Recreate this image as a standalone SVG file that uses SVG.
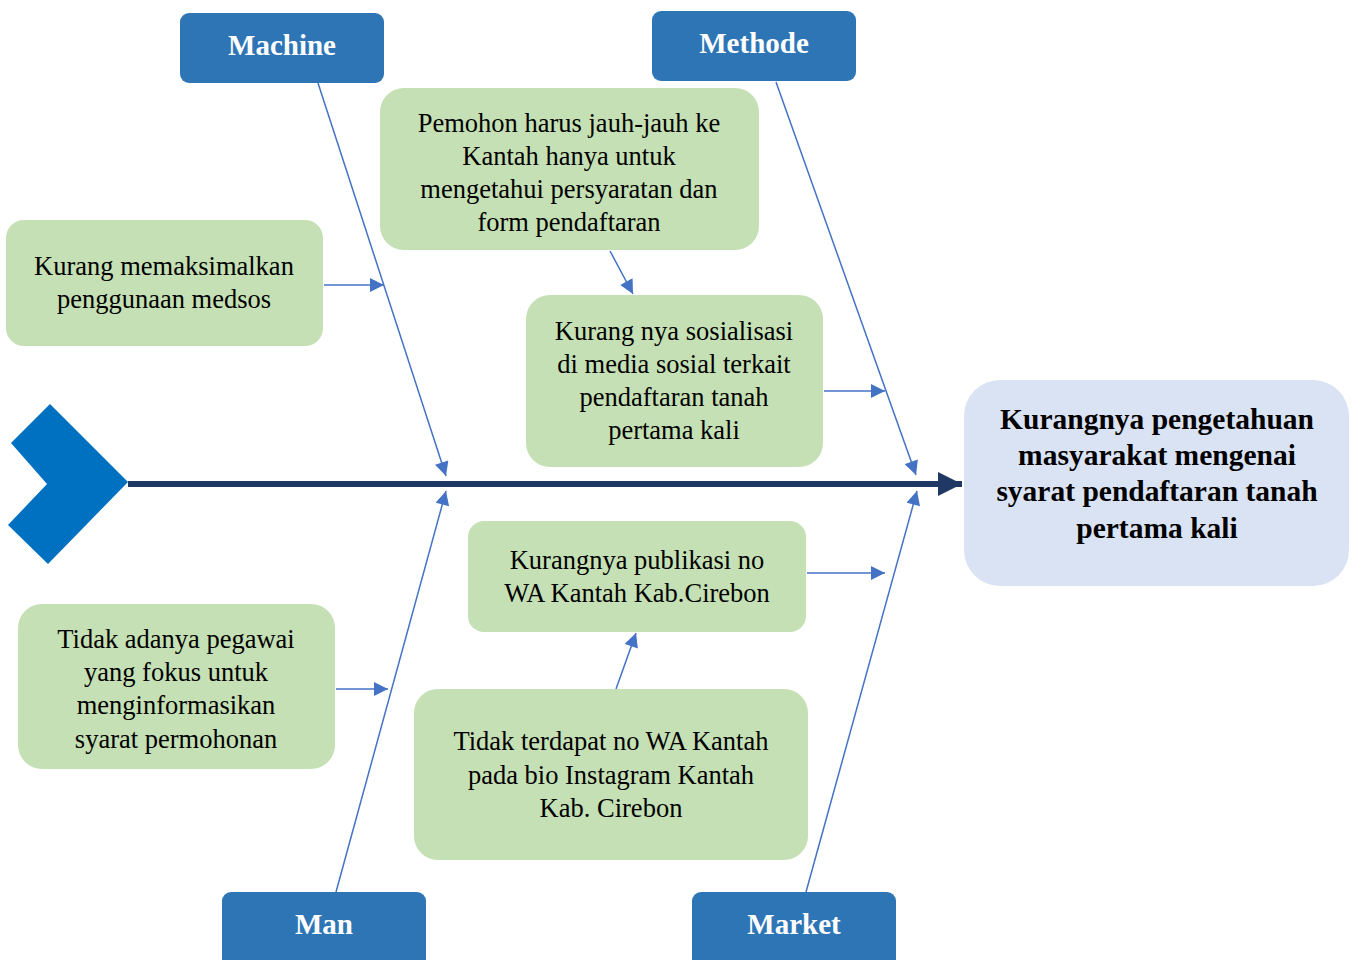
<svg xmlns="http://www.w3.org/2000/svg" width="1354" height="960" viewBox="0 0 1354 960">
<style>
.cat{fill:#2E75B6;}
.catt{font-family:"Liberation Serif",serif;font-weight:bold;font-size:29px;fill:#fff;text-anchor:middle;}
.g{fill:#C5E0B4;}
.gt{font-family:"Liberation Serif",serif;font-size:26.5px;fill:#000;text-anchor:middle;}
.rt{font-family:"Liberation Serif",serif;font-weight:bold;font-size:29.5px;fill:#000;text-anchor:middle;}
.ln{stroke:#4472C4;stroke-width:1.5;fill:none;marker-end:url(#ah);}
</style>
<defs>
<marker id="ah" viewBox="0 0 10 10" refX="10" refY="5" markerWidth="15" markerHeight="14" markerUnits="userSpaceOnUse" orient="auto"><path d="M0,0 L10,5 L0,10 z" fill="#4472C4"/></marker>
<marker id="sp" viewBox="0 0 10 10" refX="10" refY="5" markerWidth="4" markerHeight="4" orient="auto"><path d="M0,0 L10,5 L0,10 z" fill="#1F3864"/></marker>
</defs>
<rect width="1354" height="960" fill="#fff"/>
<g id="connectors">
<line x1="128" y1="484" x2="962" y2="484" stroke="#1F3864" stroke-width="6" marker-end="url(#sp)"/>
<line class="ln" x1="318" y1="83" x2="446" y2="476"/>
<line class="ln" x1="776" y1="82" x2="916" y2="475"/>
<line class="ln" x1="336" y1="892" x2="446" y2="491"/>
<line class="ln" x1="806" y1="892" x2="917" y2="491"/>
<line class="ln" x1="324" y1="285" x2="384" y2="285"/>
<line class="ln" x1="824" y1="391" x2="885" y2="391"/>
<line class="ln" x1="807" y1="573" x2="885" y2="573"/>
<line class="ln" x1="336" y1="689" x2="388" y2="689"/>
<line class="ln" x1="610" y1="251" x2="633" y2="294"/>
<line class="ln" x1="616" y1="689" x2="636" y2="633"/>
</g>
<g id="chevron"><polygon points="50,404 128,482 48,564 8,525 47,484 11,443" fill="#0070C0"/></g>
<g id="machine"><rect class="cat" x="180" y="13" width="204" height="70" rx="9"/><text class="catt" x="282" y="55">Machine</text></g>
<g id="methode"><rect class="cat" x="652" y="11" width="204" height="70" rx="9"/><text class="catt" x="754" y="53">Methode</text></g>
<g id="man"><rect class="cat" x="222" y="892" width="204" height="80" rx="9"/><text class="catt" x="324" y="934">Man</text></g>
<g id="market"><rect class="cat" x="692" y="892" width="204" height="80" rx="9"/><text class="catt" x="794" y="934">Market</text></g>
<g id="medsos"><rect class="g" x="6" y="220" width="317" height="126" rx="18"/><text class="gt" x="164" y="275">Kurang memaksimalkan</text><text class="gt" x="164" y="308">penggunaan medsos</text></g>
<g id="pemohon"><rect class="g" x="380" y="88" width="379" height="162" rx="24"/><text class="gt" x="569" y="132">Pemohon harus jauh-jauh ke</text><text class="gt" x="569" y="165">Kantah hanya untuk</text><text class="gt" x="569" y="198">mengetahui persyaratan dan</text><text class="gt" x="569" y="231">form pendaftaran</text></g>
<g id="sosialisasi"><rect class="g" x="526" y="295" width="297" height="172" rx="24"/><text class="gt" x="674" y="340">Kurang nya sosialisasi</text><text class="gt" x="674" y="373">di media sosial terkait</text><text class="gt" x="674" y="406">pendaftaran tanah</text><text class="gt" x="674" y="439">pertama kali</text></g>
<g id="publikasi"><rect class="g" x="468" y="521" width="338" height="111" rx="16"/><text class="gt" x="637" y="569">Kurangnya publikasi no</text><text class="gt" x="637" y="602">WA Kantah Kab.Cirebon</text></g>
<g id="pegawai"><rect class="g" x="18" y="604" width="317" height="165" rx="24"/><text class="gt" x="176" y="648">Tidak adanya pegawai</text><text class="gt" x="176" y="681">yang fokus untuk</text><text class="gt" x="176" y="714">menginformasikan</text><text class="gt" x="176" y="748">syarat permohonan</text></g>
<g id="bio"><rect class="g" x="414" y="689" width="394" height="171" rx="24"/><text class="gt" x="611" y="750">Tidak terdapat no WA Kantah</text><text class="gt" x="611" y="784">pada bio Instagram Kantah</text><text class="gt" x="611" y="817">Kab. Cirebon</text></g>
<g id="result"><rect x="964" y="380" width="385" height="206" rx="36" fill="#DAE3F3"/><text class="rt" x="1157" y="429">Kurangnya pengetahuan</text><text class="rt" x="1157" y="465">masyarakat mengenai</text><text class="rt" x="1157" y="501">syarat pendaftaran tanah</text><text class="rt" x="1157" y="538">pertama kali</text></g>
</svg>
